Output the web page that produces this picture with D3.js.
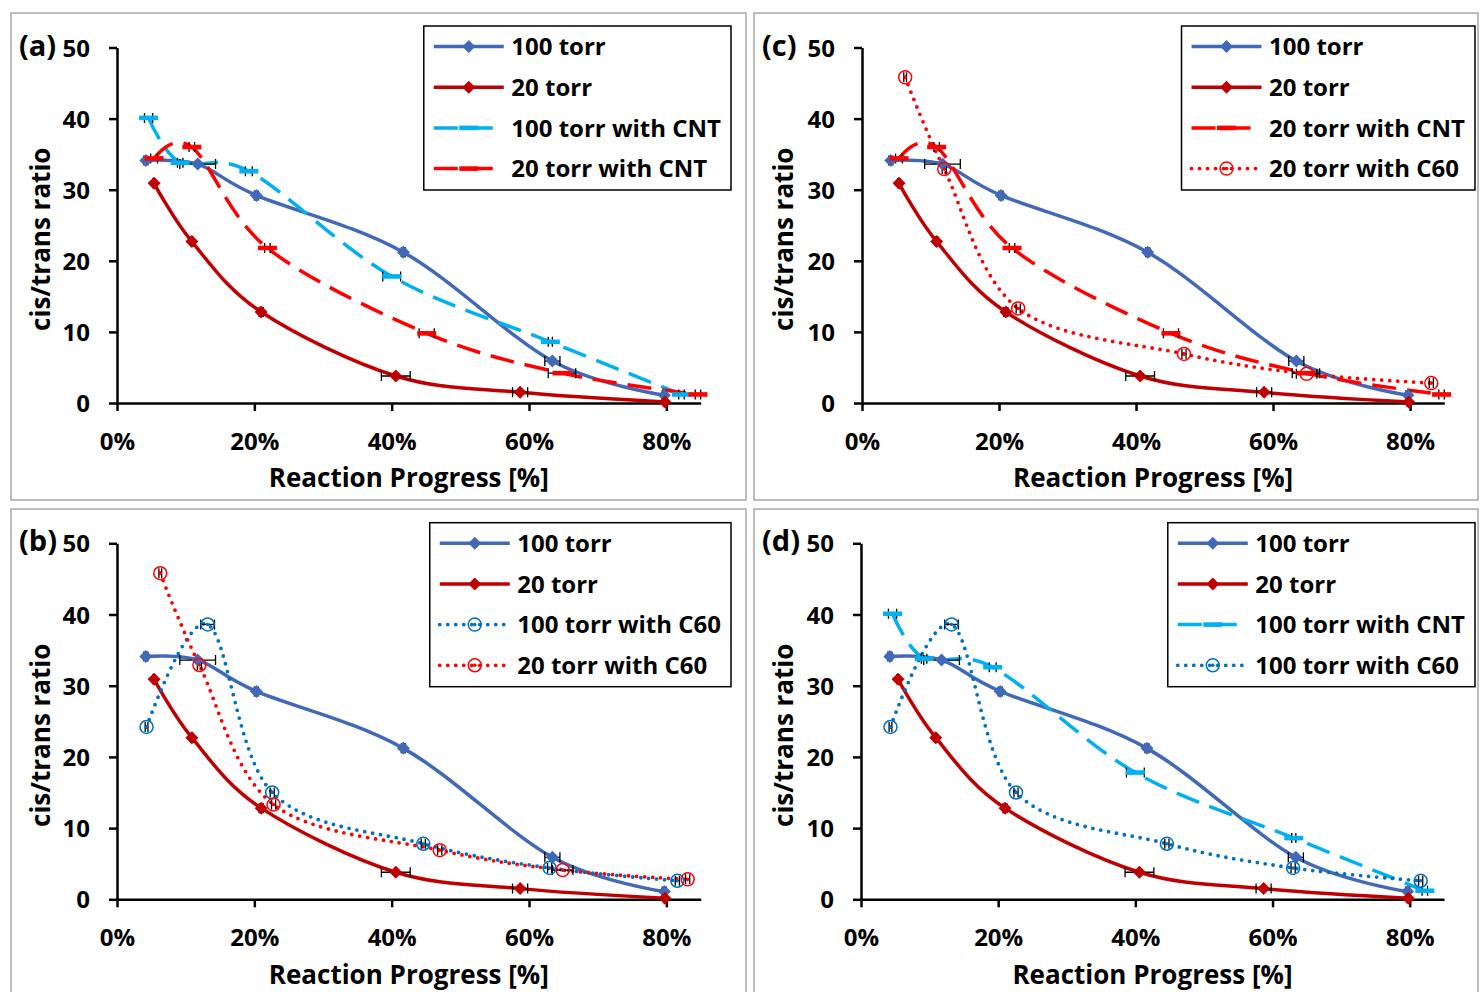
<!DOCTYPE html>
<html><head><meta charset="utf-8">
<script src="https://cdn.jsdelivr.net/npm/d3@7"></script>
<style>
body{margin:0;background:#fff}
svg{display:block}
text{font-family:"Open Sans",Lato,sans-serif;font-weight:700;fill:#000}
</style></head>
<body><svg id="chart" width="1480" height="992"></svg>
<script>
// ---------- data ----------
const xTickVals = [0, 0.2, 0.4, 0.6, 0.8];
const yTickVals = [0, 10, 20, 30, 40, 50];
const panelLabels = ["(a)", "(c)", "(b)", "(d)"];
const xTitle = "Reaction Progress [%]";
const yTitle = "cis/trans ratio";

const x100 = [0.042, 0.1175, 0.203, 0.417, 0.634, 0.797];
const y100 = [34.1, 33.6, 29.2, 21.2, 5.9, 1.1];
const e100 = [0.003, 0.026, 0.003, 0.003, 0.011, 0.003];

const x20 = [0.054, 0.109, 0.210, 0.406, 0.587, 0.798];
const y20 = [30.9, 22.7, 12.8, 3.8, 1.5, 0.15];
const e20 = [0.002, 0.002, 0.003, 0.021, 0.011, 0.002];

const x100cnt = [0.046, 0.092, 0.192, 0.400, 0.631, 0.822];
const y100cnt = [40.1, 33.8, 32.6, 17.8, 8.6, 1.2];
const e100cnt = [0.006, 0.004, 0.005, 0.013, 0.003, 0.004];

const x20cnt = [0.054, 0.109, 0.219, 0.451, 0.648, 0.846];
const y20cnt = [34.4, 36.0, 21.8, 9.8, 4.2, 1.2];
const e20cnt = [0.005, 0.004, 0.004, 0.011, 0.02, 0.004];

const x100c60 = [0.043, 0.132, 0.226, 0.446, 0.630, 0.816];
const y100c60 = [24.2, 38.6, 15.0, 7.8, 4.4, 2.6];
const e100c60 = [0.002, 0.010, 0.003, 0.003, 0.003, 0.003];

const x20c60 = [0.063, 0.120, 0.228, 0.470, 0.649, 0.831];
const y20c60 = [45.8, 32.9, 13.3, 6.9, 4.1, 2.8];
const e20c60 = [0.002, 0.003, 0.003, 0.003, 0.015, 0.003];

const series = {
  t100:    {name:"100 torr",          xs:x100,    ys:y100,    es:e100,    color:"#4169B8", style:"solid",  marker:"diamond"},
  t20:     {name:"20 torr",           xs:x20,     ys:y20,     es:e20,     color:"#C00000", style:"solid",  marker:"diamond"},
  t100cnt: {name:"100 torr with CNT", xs:x100cnt, ys:y100cnt, es:e100cnt, color:"#00B0F0", style:"dash",   marker:"bar"},
  t20cnt:  {name:"20 torr with CNT",  xs:x20cnt,  ys:y20cnt,  es:e20cnt,  color:"#FF0000", style:"dash",   marker:"bar"},
  t100c60: {name:"100 torr with C60", xs:x100c60, ys:y100c60, es:e100c60, color:"#0070C0", style:"dot",    marker:"circle"},
  t20c60:  {name:"20 torr with C60",  xs:x20c60,  ys:y20c60,  es:e20c60,  color:"#FF0000", style:"dot",    marker:"circle"}
};
const panelSeries = [
  ["t100","t20","t100cnt","t20cnt"],
  ["t100","t20","t20cnt","t20c60"],
  ["t100","t20","t100c60","t20c60"],
  ["t100","t20","t100cnt","t100c60"]
];

// ---------- layout ----------
const layout = [
  {box:[11,13,735,487],  x0:117, x1:700.7,  yTop:47.5,  yBot:403,   legR:731,  legT:26},
  {box:[754,13,724,487], x0:862, x1:1444.3, yTop:47.5,  yBot:403,   legR:1475, legT:26},
  {box:[11,509,735,500], x0:117, x1:700.7,  yTop:543.3, yBot:899.3, legR:731,  legT:522.7},
  {box:[754,509,724,500],x0:861, x1:1444,   yTop:543.3, yBot:899.3, legR:1475, legT:522.7}
];

const svg = d3.select("#chart");

function styleLine(sel, s){
  sel.attr("fill","none").attr("stroke",s.color).attr("stroke-width",3.5);
  if (s.style==="dash") sel.attr("stroke-dasharray","24,11");
  if (s.style==="dot") sel.attr("stroke-dasharray","0,8").attr("stroke-linecap","round").attr("stroke-width",3.8);
}
function drawMarker(g, s, cx, cy){
  if (s.marker==="diamond"){
    g.append("path").attr("d",`M${cx},${cy-6.5}L${cx+6.5},${cy}L${cx},${cy+6.5}L${cx-6.5},${cy}Z`).attr("fill",s.color);
  } else if (s.marker==="bar"){
    g.append("rect").attr("x",cx-9.5).attr("y",cy-2.3).attr("width",19).attr("height",4.6).attr("fill",s.color);
  } else {
    g.append("circle").attr("cx",cx).attr("cy",cy).attr("r",6.5).attr("fill","none").attr("stroke",s.color).attr("stroke-width",1.5);
    g.append("circle").attr("cx",cx).attr("cy",cy).attr("r",1.8).attr("fill",s.color);
  }
}

layout.forEach((L, pi) => {
  const g = svg.append("g");
  g.append("rect").attr("x",L.box[0]).attr("y",L.box[1]).attr("width",L.box[2]).attr("height",L.box[3])
    .attr("fill","#fff").attr("stroke","#A6A6A6").attr("stroke-width",1.5);

  const xs = d3.scaleLinear().domain([0,0.85]).range([L.x0,L.x1]);
  const ys = d3.scaleLinear().domain([0,50]).range([L.yBot,L.yTop]);

  const ax = g.append("g").attr("transform",`translate(0,${L.yBot})`)
    .call(d3.axisBottom(xs).tickValues(xTickVals).tickFormat(d3.format(".0%")).tickSizeInner(8).tickSizeOuter(0));
  const ay = g.append("g").attr("transform",`translate(${L.x0},0)`)
    .call(d3.axisLeft(ys).tickValues(yTickVals).tickSizeInner(8).tickSizeOuter(0));
  [ax,ay].forEach(a=>{
    a.select(".domain").attr("stroke","#000").attr("stroke-width",2.5);
    a.selectAll(".tick line").attr("stroke","#000").attr("stroke-width",2.5);
    a.selectAll(".tick text").style("font-size","24px").style("font-family",'"Open Sans",Lato,sans-serif').attr("fill","#000");
  });
  ax.selectAll(".tick text").attr("y",38).attr("dy","0.36em");
  ay.selectAll(".tick text").attr("x",-27).attr("dy","0.36em");

  // titles
  g.append("text").attr("x",(L.x0+L.x1)/2).attr("y",L.yBot+75).attr("dy","0.36em")
    .attr("text-anchor","middle").style("font-size","26px").text(xTitle);
  g.append("text").attr("transform",`translate(${L.box[0]+30},${(L.yTop+L.yBot)/2+14}) rotate(-90)`)
    .attr("dy","0.36em").attr("text-anchor","middle").style("font-size","26px").text(yTitle);
  g.append("text").attr("x",L.box[0]+8).attr("y",L.yTop+8).style("font-size","29px").text(panelLabels[pi]);

  const line = d3.line().x(d=>xs(d[0])).y(d=>ys(d[1])).curve(d3.curveCatmullRom.alpha(0));
  const keys = panelSeries[pi];
  const gl = g.append("g");
  keys.forEach(k=>{
    const s = series[k];
    const pts = s.xs.map((v,i)=>[v,s.ys[i]]);
    gl.append("path").attr("d",line(pts)).call(styleLine, s);
  });
  const ge = g.append("g");
  keys.forEach(k=>{
    const s = series[k];
    s.xs.forEach((v,i)=>{
      const cy = ys(s.ys[i]), xa = xs(v - s.es[i]), xb = xs(v + s.es[i]);
      ge.append("path").attr("d",`M${xa},${cy}H${xb}M${xa},${cy-5}V${cy+5}M${xb},${cy-5}V${cy+5}`)
        .attr("stroke","#000").attr("stroke-width",1.3).attr("fill","none");
    });
  });
  const gm = g.append("g");
  keys.forEach(k=>{
    const s = series[k];
    s.xs.forEach((v,i)=> drawMarker(gm, s, xs(v), ys(s.ys[i])));
  });

  // legend
  const lg = g.append("g");
  const texts = keys.map(k=>series[k].name);
  const tmp = lg.append("text").style("font-size","24px");
  let maxW = 0;
  texts.forEach(t=>{ tmp.text(t); maxW = Math.max(maxW, tmp.node().getComputedTextLength()); });
  tmp.remove();
  const boxW = 10 + 70 + 7.5 + maxW + 10;
  const lx = L.legR - boxW;
  lg.append("rect").attr("x",lx).attr("y",L.legT).attr("width",boxW).attr("height",164)
    .attr("fill","#fff").attr("stroke","#000").attr("stroke-width",1.5);
  keys.forEach((k,i)=>{
    const s = series[k];
    const cy = L.legT + 20.5 + i*40.7;
    lg.append("path").attr("d",`M${lx+10},${cy}H${lx+80}`).call(styleLine, s);
    drawMarker(lg, s, lx+45, cy);
    lg.append("text").attr("x",lx+87.5).attr("y",cy).attr("dy","0.36em").style("font-size","24px").text(s.name);
  });
});
</script></body></html>
